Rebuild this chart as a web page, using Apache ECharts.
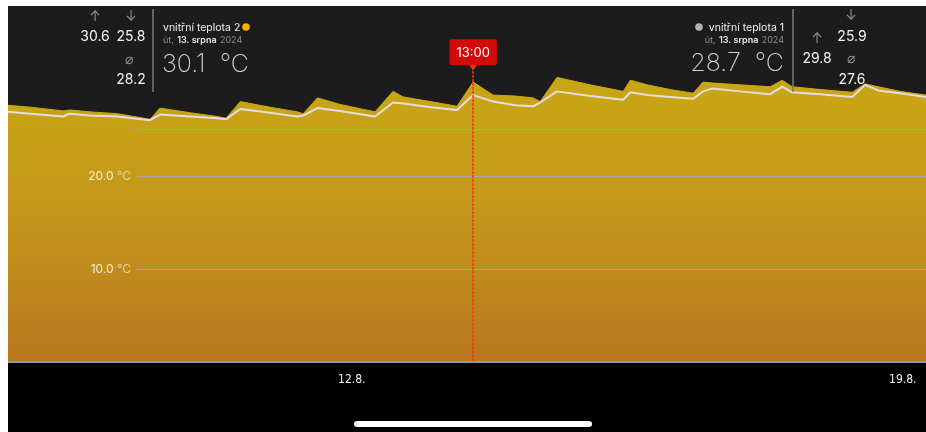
<!DOCTYPE html>
<html>
<head>
<meta charset="utf-8">
<script src="https://cdn.jsdelivr.net/npm/echarts@6/dist/echarts.min.js"></script>
<style>
  html, body { margin: 0; padding: 0; background: #fff; }
  #chart { position: absolute; left: 8px; top: 6px; width: 918px; height: 426px; background: #000; }
</style>
</head>
<body>
<div id="chart"></div>
<script>
// readings (local time)
const times = [
  "2024-08-07 15:10", "2024-08-07 22:00", "2024-08-08 08:00", "2024-08-08 10:00", "2024-08-08 16:00",
  "2024-08-09 00:30", "2024-08-09 10:30", "2024-08-09 13:30", "2024-08-09 22:40", "2024-08-10 07:00",
  "2024-08-10 09:40", "2024-08-10 14:00", "2024-08-10 23:00", "2024-08-11 07:20", "2024-08-11 09:10",
  "2024-08-11 13:30", "2024-08-11 20:25", "2024-08-12 07:05", "2024-08-12 12:35", "2024-08-12 15:40",
  "2024-08-13 00:00", "2024-08-13 08:05", "2024-08-13 13:00", "2024-08-13 19:05", "2024-08-14 01:50",
  "2024-08-14 07:20", "2024-08-14 09:25", "2024-08-14 14:35", "2024-08-15 00:40", "2024-08-15 10:45",
  "2024-08-15 12:55", "2024-08-15 18:05", "2024-08-16 01:05", "2024-08-16 08:05", "2024-08-16 11:05",
  "2024-08-16 13:55", "2024-08-16 22:25", "2024-08-17 07:35", "2024-08-17 11:15", "2024-08-17 14:15",
  "2024-08-17 22:50", "2024-08-18 08:35", "2024-08-18 12:30", "2024-08-18 16:30", "2024-08-18 23:10",
  "2024-08-19 07:05"
];
// vnitřní teplota 2 (yellow area)
const temp2 = [
  27.6, 27.4, 27.0, 27.1, 26.9, 26.7, 26.1, 27.3, 26.8, 26.4,
  26.2, 28.0, 27.4, 26.9, 26.7, 28.4, 27.7, 26.9, 29.1, 28.5,
  28.0, 27.5, 30.1, 28.7, 28.6, 28.4, 28.0, 30.6, 29.8, 29.1,
  30.3, 29.8, 29.3, 28.9, 30.1, 30.0, 29.8, 29.6, 30.3, 29.6,
  29.3, 29.0, 29.9, 29.6, 29.1, 28.7
];
// vnitřní teplota 1 (white line)
const temp1 = [
  26.9, 26.7, 26.4, 26.7, 26.5, 26.4, 26.0, 26.6, 26.4, 26.2,
  26.1, 27.2, 26.8, 26.4, 26.5, 27.3, 27.0, 26.4, 27.9, 27.8,
  27.4, 27.1, 28.7, 28.0, 27.6, 27.5, 27.9, 29.1, 28.6, 28.2,
  29.0, 28.7, 28.5, 28.3, 29.1, 29.4, 29.1, 28.8, 29.6, 29.0,
  28.8, 28.5, 29.8, 29.2, 28.9, 28.5
];

const rangeStart = "2024-08-07 15:10";
const rangeEnd = "2024-08-19 07:05";
const dateTicks = ["2024-08-12 00:00", "2024-08-19 00:00"];
const tempTicks = [10, 20];
const cursorTime = "2024-08-13 13:00";

// summary boxes: [max, min, avg, current]
const stats2 = ["30.6", "25.8", "28.2", "30.1"];
const stats1 = ["29.8", "25.9", "27.6", "28.7"];
const name2 = "vnitřní teplota 2";
const name1 = "vnitřní teplota 1";

const ts = s => +echarts.number.parseDate(s);

const chart = echarts.init(document.getElementById("chart"));

const grey = "#8e8e93";
const font = "Inter, Roboto, 'Noto Sans', sans-serif";
const pxPerDeg = 356 / 38.28;

// x, y in page pixels
function txt(x, y, text, size, fill, align, weight) {
  return {
    type: "text", x: x - 8, y: y - 6, z: 20,
    style: {
      text, fill,
      font: `${weight || 400} ${size}px ${font}`,
      align: align || "center", verticalAlign: "middle"
    }
  };
}

function dateLine(x, y, align) {
  return {
    type: "text", x: x - 8, y: y - 6, z: 20,
    style: {
      text: "{g|út,} {b|13. srpna} {g|2024}",
      align, verticalAlign: "middle",
      rich: {
        g: { fill: grey, font: `400 9px ${font}` },
        b: { fill: "#e8e8e8", font: `600 9px ${font}` }
      }
    }
  };
}

const graphics = [
  // left box
  txt(95, 17, "↑", 14, grey),
  txt(131, 17, "↓", 14, grey),
  txt(95, 37, stats2[0], 14, "#f2f2f2"),
  txt(131, 37, stats2[1], 14, "#f2f2f2"),
  txt(129, 60, "⌀", 14, grey),
  txt(131, 80, stats2[2], 14, "#f2f2f2"),
  { type: "line", z: 20, shape: { x1: 145, y1: 3, x2: 145, y2: 86 }, style: { stroke: "#7a7a7a", lineWidth: 1.5 } },
  txt(163, 28, name2, 10.5, "#f0f0f0", "left"),
  { type: "circle", z: 20, shape: { cx: 238, cy: 21, r: 3.8 }, style: { fill: "#f7b500" } },
  dateLine(163, 40, "left"),
  txt(162, 64, stats2[3] + "  °C", 25, "#d0d0d0", "left", 200),
  // right box
  { type: "circle", z: 20, shape: { cx: 691, cy: 21, r: 3.8 }, style: { fill: "#b4b4b4" } },
  txt(784, 28, name1, 10.5, "#f0f0f0", "right"),
  dateLine(784, 40, "right"),
  txt(784, 63, stats1[3] + "  °C", 25, "#d0d0d0", "right", 200),
  { type: "line", z: 20, shape: { x1: 785, y1: 3, x2: 785, y2: 86 }, style: { stroke: "#7a7a7a", lineWidth: 1.5 } },
  txt(851, 16, "↓", 14, grey),
  txt(852, 37, stats1[1], 14, "#f2f2f2"),
  txt(817, 39, "↑", 14, grey),
  txt(817, 59, stats1[0], 14, "#f2f2f2"),
  txt(851, 59, "⌀", 14, grey),
  txt(852, 80, stats1[2], 14, "#f2f2f2"),
  // home indicator
  { type: "rect", z: 20, shape: { x: 354 - 8, y: 421 - 6, width: 238, height: 6, r: 3 }, style: { fill: "#fff" } }
];

const option = {
  animation: false,
  backgroundColor: "#000",
  grid: [
    { left: 0, right: 0, top: 0, bottom: 70, show: true, backgroundColor: "#1c1c1d", borderWidth: 0 },
    // overlay grid for the temperature lines; same scale, stops at 25 °C
    { left: 129, right: 0, top: 356 - 25 * pxPerDeg, bottom: 70 }
  ],
  xAxis: [
    {
      type: "value",
      gridIndex: 0,
      min: ts(rangeStart),
      max: ts(rangeEnd),
      axisLine: { show: true, lineStyle: { color: "#8d9ba0", width: 2 } },
      axisTick: { show: false },
      splitLine: { show: false },
      axisLabel: {
        customValues: dateTicks.map(ts),
        color: "#f0f0f0",
        fontSize: 12,
        fontFamily: "'Liberation Sans Narrow', 'DejaVu Sans Condensed', sans-serif",
        margin: 12,
        formatter: v => {
          const d = new Date(v);
          return d.getDate() + "." + (d.getMonth() + 1) + ".";
        }
      },
      z: 5
    },
    { type: "value", gridIndex: 1, min: 0, max: 1, show: false }
  ],
  yAxis: [
    { type: "value", gridIndex: 0, min: 0, max: 38.28, show: false },
    {
      type: "value",
      gridIndex: 1,
      min: 0,
      max: 25,
      interval: 10,
      z: 5,
      axisLine: { show: false },
      axisTick: { show: false },
      splitLine: { show: true, lineStyle: { color: "#a5a2b5", width: 1.2 } },
      axisLabel: {
        margin: 6,
        formatter: v => tempTicks.includes(v) ? `{n|${v.toFixed(1)}} {u|°C}` : "",
        rich: {
          n: { color: "#f6eed8", fontSize: 12, fontFamily: font },
          u: { color: "#e2d3a4", fontSize: 12, fontFamily: font }
        }
      }
    }
  ],
  graphic: graphics,
  series: [
    {
      name: name2,
      type: "line",
      xAxisIndex: 0,
      yAxisIndex: 0,
      data: times.map((t, i) => [ts(t), temp2[i]]),
      showSymbol: false,
      lineStyle: { width: 1, color: "#c9a713" },
      areaStyle: {
        opacity: 1,
        color: new echarts.graphic.LinearGradient(0, 0, 0, 1, [
          { offset: 0, color: "#c9a713" },
          { offset: 0.5, color: "#c4961c" },
          { offset: 1, color: "#b9761f" }
        ])
      },
      markLine: {
        silent: true,
        symbol: ["none", "triangle"],
        symbolSize: [9, 6],
        symbolRotate: 180,
        label: {
          position: "end",
          distance: 2,
          formatter: "13:00",
          color: "#fff",
          fontSize: 13,
          fontFamily: font,
          backgroundColor: "#d20a0a",
          borderRadius: 2,
          padding: [7, 7, 6, 7]
        },
        data: [[
          { coord: [ts(cursorTime), 0], symbol: "none", lineStyle: { color: "#ff3010", width: 1.5, type: [3, 1], opacity: 1 } },
          { coord: [ts(cursorTime), 31.7], itemStyle: { color: "#d20a0a" } }
        ]]
      },
      z: 2
    },
    {
      name: name1,
      type: "line",
      xAxisIndex: 0,
      yAxisIndex: 0,
      data: times.map((t, i) => [ts(t), temp1[i]]),
      showSymbol: false,
      lineStyle: { width: 2, color: "#e4dce4" },
      z: 3
    }
  ]
};

chart.setOption(option);
</script>
</body>
</html>
